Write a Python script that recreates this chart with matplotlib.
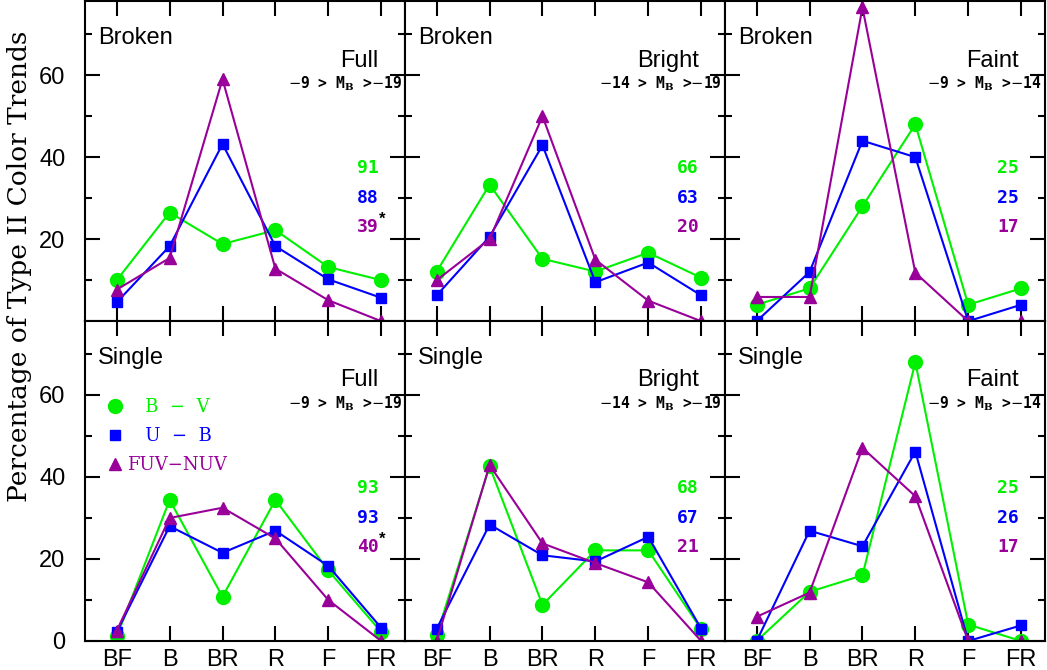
import numpy as np
import matplotlib
matplotlib.use("Agg")
import matplotlib.pyplot as plt

cats = ['BF', 'B', 'BR', 'R', 'F', 'FR']

# top row: broken profiles
bv_broken_full = [10.0, 26.5, 18.8, 22.2, 13.2, 10.0]
ub_broken_full = [4.6, 18.3, 43.2, 18.3, 10.2, 5.7]
fuv_broken_full = [7.7, 15.4, 59.0, 12.8, 5.1, 0.0]

bv_broken_bright = [12.1, 33.3, 15.2, 12.1, 16.7, 10.6]
ub_broken_bright = [6.3, 20.6, 42.9, 9.5, 14.3, 6.3]
fuv_broken_bright = [10.0, 20.0, 50.0, 15.0, 5.0, 0.0]

bv_broken_faint = [4.0, 8.0, 28.0, 48.0, 4.0, 8.0]
ub_broken_faint = [0.0, 12.0, 44.0, 40.0, 0.0, 4.0]
fuv_broken_faint = [5.9, 5.9, 76.5, 11.8, 0.0, 0.0]

# bottom row: single profiles
bv_single_full = [1.1, 34.4, 10.8, 34.4, 17.2, 2.2]
ub_single_full = [2.2, 28.0, 21.5, 26.9, 18.3, 3.2]
fuv_single_full = [2.5, 30.0, 32.5, 25.0, 10.0, 0.0]

bv_single_bright = [1.5, 42.6, 8.8, 22.1, 22.1, 2.9]
ub_single_bright = [3.0, 28.4, 20.9, 19.4, 25.4, 3.0]
fuv_single_bright = [0.0, 42.9, 23.8, 19.0, 14.3, 0.0]

bv_single_faint = [0.0, 12.0, 16.0, 68.0, 4.0, 0.0]
ub_single_faint = [0.0, 26.9, 23.1, 46.2, 0.0, 3.8]
fuv_single_faint = [5.9, 11.8, 47.1, 35.3, 0.0, 0.0]

counts = [[('91', '88', '39'), ('66', '63', '20'), ('25', '25', '17')],
          [('93', '93', '40'), ('68', '67', '21'), ('25', '26', '17')]]
starred = [[True, False, False], [True, False, False]]

row_names = ['Broken', 'Single']
col_names = ['Full', 'Bright', 'Faint']
mag_ranges = [r'$-$9 > M$_\mathbf{B}$ >$-$19', r'$-$14 > M$_\mathbf{B}$ >$-$19', r'$-$9 > M$_\mathbf{B}$ >$-$14']

data = [[(bv_broken_full, ub_broken_full, fuv_broken_full),
         (bv_broken_bright, ub_broken_bright, fuv_broken_bright),
         (bv_broken_faint, ub_broken_faint, fuv_broken_faint)],
        [(bv_single_full, ub_single_full, fuv_single_full),
         (bv_single_bright, ub_single_bright, fuv_single_bright),
         (bv_single_faint, ub_single_faint, fuv_single_faint)]]

green = '#00f000'
blue = '#0000ff'
purple = '#990099'

plt.rcParams['font.family'] = ['Liberation Sans', 'DejaVu Sans']
plt.rcParams['mathtext.fontset'] = 'dejavuserif'

fig, axes = plt.subplots(2, 3, figsize=(10.47, 6.70), dpi=100, sharex=True)
plt.subplots_adjust(left=0.0812, right=0.998, top=0.998, bottom=0.0433, wspace=0, hspace=0)

x = np.arange(len(cats))
serif = ['DejaVu Serif']

for r in range(2):
    for c in range(3):
        ax = axes[r, c]
        bv, ub, fuv = data[r][c]
        ax.plot(x, bv, '-o', color=green, ms=10, lw=1.5, label=u'   B  \u2212  V')
        ax.plot(x, ub, '-s', color=blue, ms=7.5, lw=1.5, label=u'   U  \u2212  B')
        ax.plot(x, fuv, '-^', color=purple, ms=8, lw=1.5, label=u'FUV\u2212NUV')
        ax.set_xlim(-0.6, 5.45)
        ax.set_ylim(0, 78)
        ax.set_xticks(x)
        ax.set_xticklabels(cats)
        ax.set_yticks([20, 40, 60] if r == 0 else [0, 20, 40, 60])
        ax.set_yticks([10, 30, 50, 70], minor=True)
        ax.tick_params(which='both', direction='in', top=True, right=True, width=1.5)
        ax.tick_params(which='major', length=11, labelsize=17)
        ax.tick_params(axis='y', which='major', pad=14)
        ax.tick_params(axis='x', which='major', pad=6)
        ax.tick_params(which='minor', length=5)
        ax.tick_params(axis='x', which='minor', length=0)
        if c > 0:
            ax.tick_params(labelleft=False)
        for s in ax.spines.values():
            s.set_linewidth(1.5)

        ax.text(0.04, 0.885, row_names[r], transform=ax.transAxes, fontsize=17, ha='left', va='center')
        ax.text(0.918, 0.815, col_names[c], transform=ax.transAxes, fontsize=17, ha='right', va='center')
        ax.text(0.99, 0.742, mag_ranges[c], transform=ax.transAxes, fontsize=10.5, fontweight='bold',
                ha='right', va='center', family='DejaVu Sans Mono')

        n1, n2, n3 = counts[r][c]
        for k, (txt, col) in enumerate(zip((n1, n2, n3), (green, blue, purple))):
            ax.text(0.918, 0.478 - 0.092 * k, txt, transform=ax.transAxes, fontsize=13,
                    fontweight='bold', family='DejaVu Sans Mono', color=col, ha='right', va='center')
        if starred[r][c]:
            ax.text(0.92, 0.318, '*', transform=ax.transAxes, fontsize=12, fontweight='bold',
                    color='black', ha='left', va='center')

axes[1, 0].legend(loc='upper left', bbox_to_anchor=(0.02, 0.81), frameon=False, handlelength=0.8,
                  handletextpad=0.3, labelspacing=0.6, labelcolor='markerfacecolor',
                  prop={'family': serif, 'size': 13})
for h in axes[1, 0].get_legend().get_lines():
    h.set_linestyle('none')

fig.text(0.019, 0.603, 'Percentage of Type II Color Trends', rotation=90, ha='center', va='center',
         fontsize=19, family=serif)

plt.savefig('out.png', dpi=100)
